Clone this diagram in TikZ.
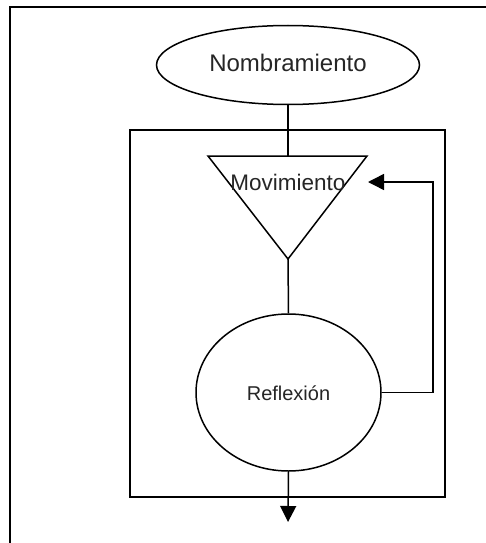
\documentclass[tikz,border=0pt]{standalone}
\usepackage{fontspec}
\setmainfont{Liberation Sans}
\usetikzlibrary{shapes.geometric,arrows.meta}
\begin{document}
\begin{tikzpicture}[x=1pt,y=-1pt,
  line/.style={draw=black,line width=1.5pt},
  frameline/.style={draw=black,line width=2.5pt},
  tip/.style={-{Triangle[length=16pt,width=16pt]}}]
\useasboundingbox (0,0) rectangle (486,543);
\fill[white] (0,0) rectangle (486,543);
% outer frame (only top and left visible)
\draw[frameline] (10,548) -- (10,7) -- (490,7);
% inner box
\draw[line] (130,130) rectangle (445,497);
% nodes
\node[line,ellipse,minimum width=263pt,minimum height=79pt,inner sep=0pt] (nomb) at (288,65) {};
\node[font=\fontsize{24}{28}\selectfont,text=black!85] at (288,63) {Nombramiento};
\coordinate (tl) at (208,156);
\coordinate (tr) at (367,156);
\coordinate (apex) at (288,259);
\coordinate (ttop) at (288,156);
\draw[line,line join=miter] (tl) -- (tr) -- (apex) -- cycle;
\node[font=\fontsize{22.5}{27}\selectfont,text=black!85] (mov) at (288,182) {Movimiento};
\node[line,ellipse,minimum width=185pt,minimum height=157pt,inner sep=0pt] (refl) at (288.5,392.5) {};
\node[font=\fontsize{20}{24}\selectfont,text=black!85] at (288.5,393) {Reflexión};
% connectors
\draw[line] (nomb.south) -- (ttop);
\draw[line] (apex) -- (refl.north);
\coordinate (fbtip) at (368,182);
\draw[line,tip] (refl.east) -- (433,392.5) -- (433,182) -- (fbtip);
\coordinate (outtip) at (288,522);
\draw[line,tip] (refl.south) -- (outtip);
\end{tikzpicture}
\end{document}
